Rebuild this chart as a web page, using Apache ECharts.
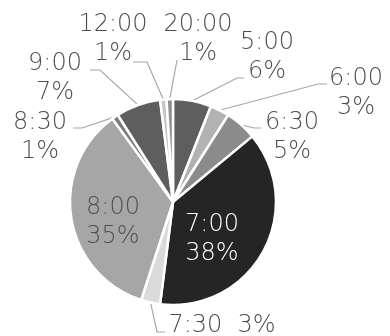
<!DOCTYPE html>
<html><head><meta charset="utf-8">
<script src="https://cdn.jsdelivr.net/npm/echarts@6/dist/echarts.min.js"></script>
<style>html,body{margin:0;padding:0;background:#fff}#c{width:390px;height:336px}</style>
</head><body><div id="c"></div>
<script>
const categories = ['5:00','6:00','6:30','7:00','7:30','8:00','8:30','9:00','12:00','20:00'];
const values = [6, 3, 5, 38, 3, 35, 1, 7, 1, 1];
const colors = ['#5e5e5e','#b2b2b2','#8b8b8b','#252525','#dadada','#a6a6a6','#7a7a7a','#5e5e5e','#c6c6c6','#8e8e8e'];

// label anchor positions (layout only) and leader-line bends
const labelPos = [
  {x:267,y:57, line:[[237,78],[244,78]]},
  {x:356,y:93, line:[[318,84],[327,84]]},
  {x:292,y:137, line:[[254,128],[261,128]]},
  {x:212,y:239},
  {x:222,y:326, line:[[157,332],[165,332]]},
  {x:113,y:222},
  {x:40,y:137, line:[[82,128],[73,128]]},
  {x:55,y:78, line:[[100,70],[90,70]]},
  {x:113,y:39, line:[[147,62],[133,62]]},
  {x:198,y:39, line:[[177,60]]}
];

const chart = echarts.init(document.getElementById('c'), null, {renderer:'canvas'});
const data = categories.map((n,i)=>{
  const d = {name:n, value:values[i], itemStyle:{color:colors[i]}};
  if (i===3) { d.label = {color:'#ffffff'}; d.labelLine = {show:false}; }
  if (i===5) { d.label = {color:'#505050'}; d.labelLine = {show:false}; }
  if (i===4) { d.label = {formatter:'{b}  {c}%'}; }
  return d;
});
chart.setOption({
  animation:false,
  series:[{
    type:'pie',
    center:[173,202],
    radius:[0,103],
    startAngle:90,
    clockwise:true,
    data:data,
    itemStyle:{borderColor:'#ffffff',borderWidth:2.5},
    label:{show:true,position:'outside',formatter:'{b}\n{c}%',color:'#4d4d4d',
      fontFamily:'DejaVu Sans',fontWeight:200,fontSize:24,lineHeight:29,align:'center',
      overflow:'none',width:200},
    labelLine:{show:true,length:10,length2:10,lineStyle:{color:'#a6a6a6',width:1.2}},
    labelLayout:function(p){
      const lp = labelPos[p.dataIndex];
      const r = {x:lp.x,y:lp.y,align:'center',verticalAlign:'middle',width:200};
      if (lp.line && p.labelLinePoints) {
        r.labelLinePoints = [p.labelLinePoints[0]].concat(lp.line);
      }
      return r;
    }
  }]
});
</script></body></html>
